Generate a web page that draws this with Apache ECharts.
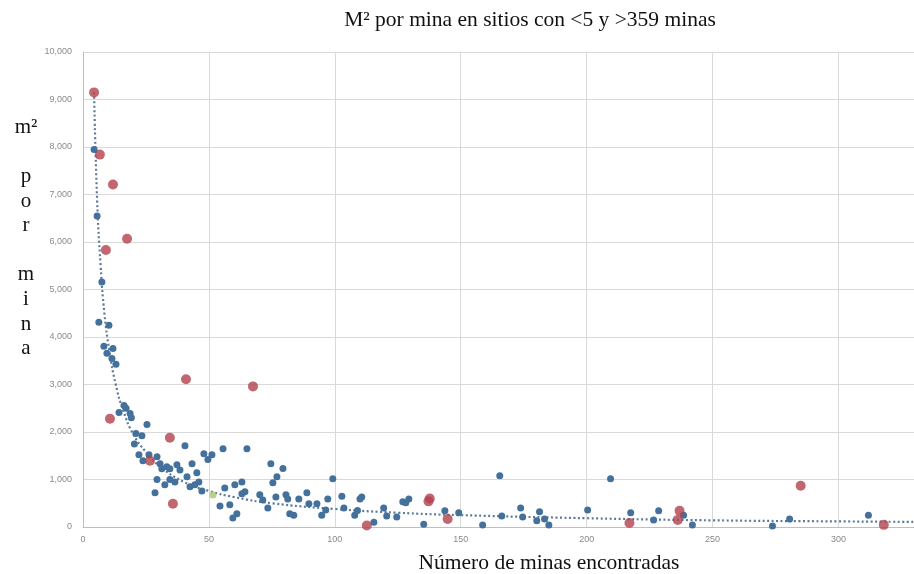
<!DOCTYPE html>
<html>
<head>
<meta charset="utf-8">
<script src="https://cdn.jsdelivr.net/npm/echarts@6/dist/echarts.min.js"></script>
<style>html,body{margin:0;padding:0;background:#fff;}#c{width:914px;height:574px;}</style>
</head>
<body>
<div id="c"></div>
<script>
// Data
var titleText = 'M\u00b2 por mina en sitios con <5 y >359 minas';
var xTitle = 'N\u00famero de minas encontradas';
var yTitleLines = ['m\u00b2', '', 'p', 'o', 'r', '', 'm', 'i', 'n', 'a'];

var bluePoints = [
  [4.4,7950],[5.6,6550],[7.5,5160],[6.3,4310],[10.3,4250],[8.3,3805],[11.9,3760],[9.5,3660],[11.5,3550],[13.1,3425],
  [16.3,2560],[17.1,2500],[14.3,2410],[18.7,2390],[19.2,2300],[25.4,2160],[21.0,1970],[23.4,1920],[20.4,1750],[22.2,1520],
  [23.8,1395],[26.2,1520],[29.4,1480],[30.6,1330],[31.3,1225],[33.3,1270],[34.5,1225],[37.3,1310],[38.5,1200],[40.5,1710],
  [41.3,1060],[43.3,1330],[42.5,850],[44.4,890],[45.2,1140],[46,950],[48,1540],[49.6,1420],[51.2,1520],[55.6,1650],
  [47.2,760],[36.5,950],[34.5,1000],[32.5,890],[28.6,720],[29.4,1000],[54.4,440],[58.3,470],[60.3,890],[63.1,950],
  [59.5,190],[61.1,280],[63.1,700],[65.1,1650],[70.2,680],[71.4,570],[73.4,400],[74.6,1330],[75.4,930],[77,1060],
  [79.4,1230],[56.3,820],[64.3,740],[76.6,630],[80.6,680],[81.3,590],[82.1,280],[83.7,250],[85.7,590],[88.9,720],
  [89.7,490],[92.9,490],[94.8,250],[96.4,360],[97.2,590],[99.2,1015],[102.8,650],[103.6,400],[107.9,250],[109,350],
  [110,590],[110.7,630],[115.5,100],[119.4,400],[120.6,230],[124.6,210],[127,530],[128.2,510],[129.4,590],[135.3,60],
  [143.7,340],[149.2,300],[158.7,40],[165.5,1080],[166.3,230],[173.8,400],[174.6,210],[180.2,130],[181.3,320],[183.3,170],
  [185,40],[200.4,360],[209.5,1015],[217.5,300],[226.6,150],[228.6,340],[238.5,250],[242,40],[273.8,20],[280.6,170],
  [311.9,250]
];

var redPoints = [
  [4.4,9150],[6.7,7840],[11.9,7210],[9.1,5830],[17.5,6070],[10.7,2280],[40.9,3110],[67.5,2960],[26.6,1395],[34.5,1880],
  [35.7,490],[112.7,30],[137.7,600],[137.2,540],[144.8,170],[217,85],[236.9,340],[236.2,150],[285,870],[318,45]
];

var greenPoints = [[51.6,675]];

var trendPoints = [
  [4.4,9150],[5.6,6900],[7,5500],[8.5,4500],[10.5,3700],[13,3000],[16,2450],[20,1950],[25,1580],[30,1300],
  [40,950],[50,760],[60,630],[75,500],[100,380],[125,300],[150,250],[200,185],[250,140],[300,118],[330,108]
];

var xMin = 0, xMax = 330, xStep = 50;
var yMin = 0, yMax = 10000, yStep = 1000;

var chart = echarts.init(document.getElementById('c'), null, {renderer: 'canvas'});
var serif = '"Liberation Serif", "DejaVu Serif", serif';
var sans = '"Liberation Sans", "DejaVu Sans", sans-serif';
chart.setOption({
  animation: false,
  backgroundColor: '#fff',
  graphic: [{
    type: 'text', x: 530, y: 20,
    style: {text: titleText, font: '21.5px ' + serif, fill: '#111', textAlign: 'center', textVerticalAlign: 'middle'}
  }, {
    type: 'text', left: 13, top: 115,
    style: {text: yTitleLines.join('\n'), font: '21px ' + serif, fill: '#111', textAlign: 'center', lineHeight: 24.6, width: 26}
  }, {
    type: 'text', x: 549, y: 563,
    style: {text: xTitle, font: '21.5px ' + serif, fill: '#111', textAlign: 'center', textVerticalAlign: 'middle'}
  }],
  grid: {left: 83, right: 0, top: 52, bottom: 47, containLabel: false},
  xAxis: {
    type: 'value', min: xMin, max: xMax, interval: xStep,
    axisLine: {show: true, lineStyle: {color: '#bfbfbf'}},
    axisTick: {show: false},
    splitLine: {show: true, lineStyle: {color: '#d9d9d9', width: 1}},
    axisLabel: {color: '#8a8a8a', fontSize: 9, fontFamily: sans, margin: 8, showMaxLabel: false,
      formatter: function (v) { return v % xStep === 0 ? String(v) : ''; }}
  },
  yAxis: {
    type: 'value', min: yMin, max: yMax, interval: yStep,
    axisLine: {show: true, lineStyle: {color: '#bfbfbf'}},
    axisTick: {show: false},
    splitLine: {show: true, lineStyle: {color: '#d9d9d9', width: 1}},
    axisLabel: {color: '#8a8a8a', fontSize: 9, fontFamily: sans, margin: 11,
      formatter: function (v) { return v.toLocaleString('en-US'); }}
  },
  series: [
    {type: 'line', data: trendPoints, smooth: true, symbol: 'none', z: 3,
      lineStyle: {color: '#5b7a99', width: 2.2, type: [2, 2.5]}},
    {type: 'scatter', data: bluePoints, symbolSize: 7, z: 4,
      itemStyle: {color: '#44719c', opacity: 1}},
    {type: 'scatter', data: greenPoints, symbolSize: 7, z: 4,
      itemStyle: {color: '#a9c46a'}},
    {type: 'scatter', data: redPoints, symbolSize: 10, z: 5,
      itemStyle: {color: '#b1414c'}}
  ]
});
</script>
</body>
</html>
